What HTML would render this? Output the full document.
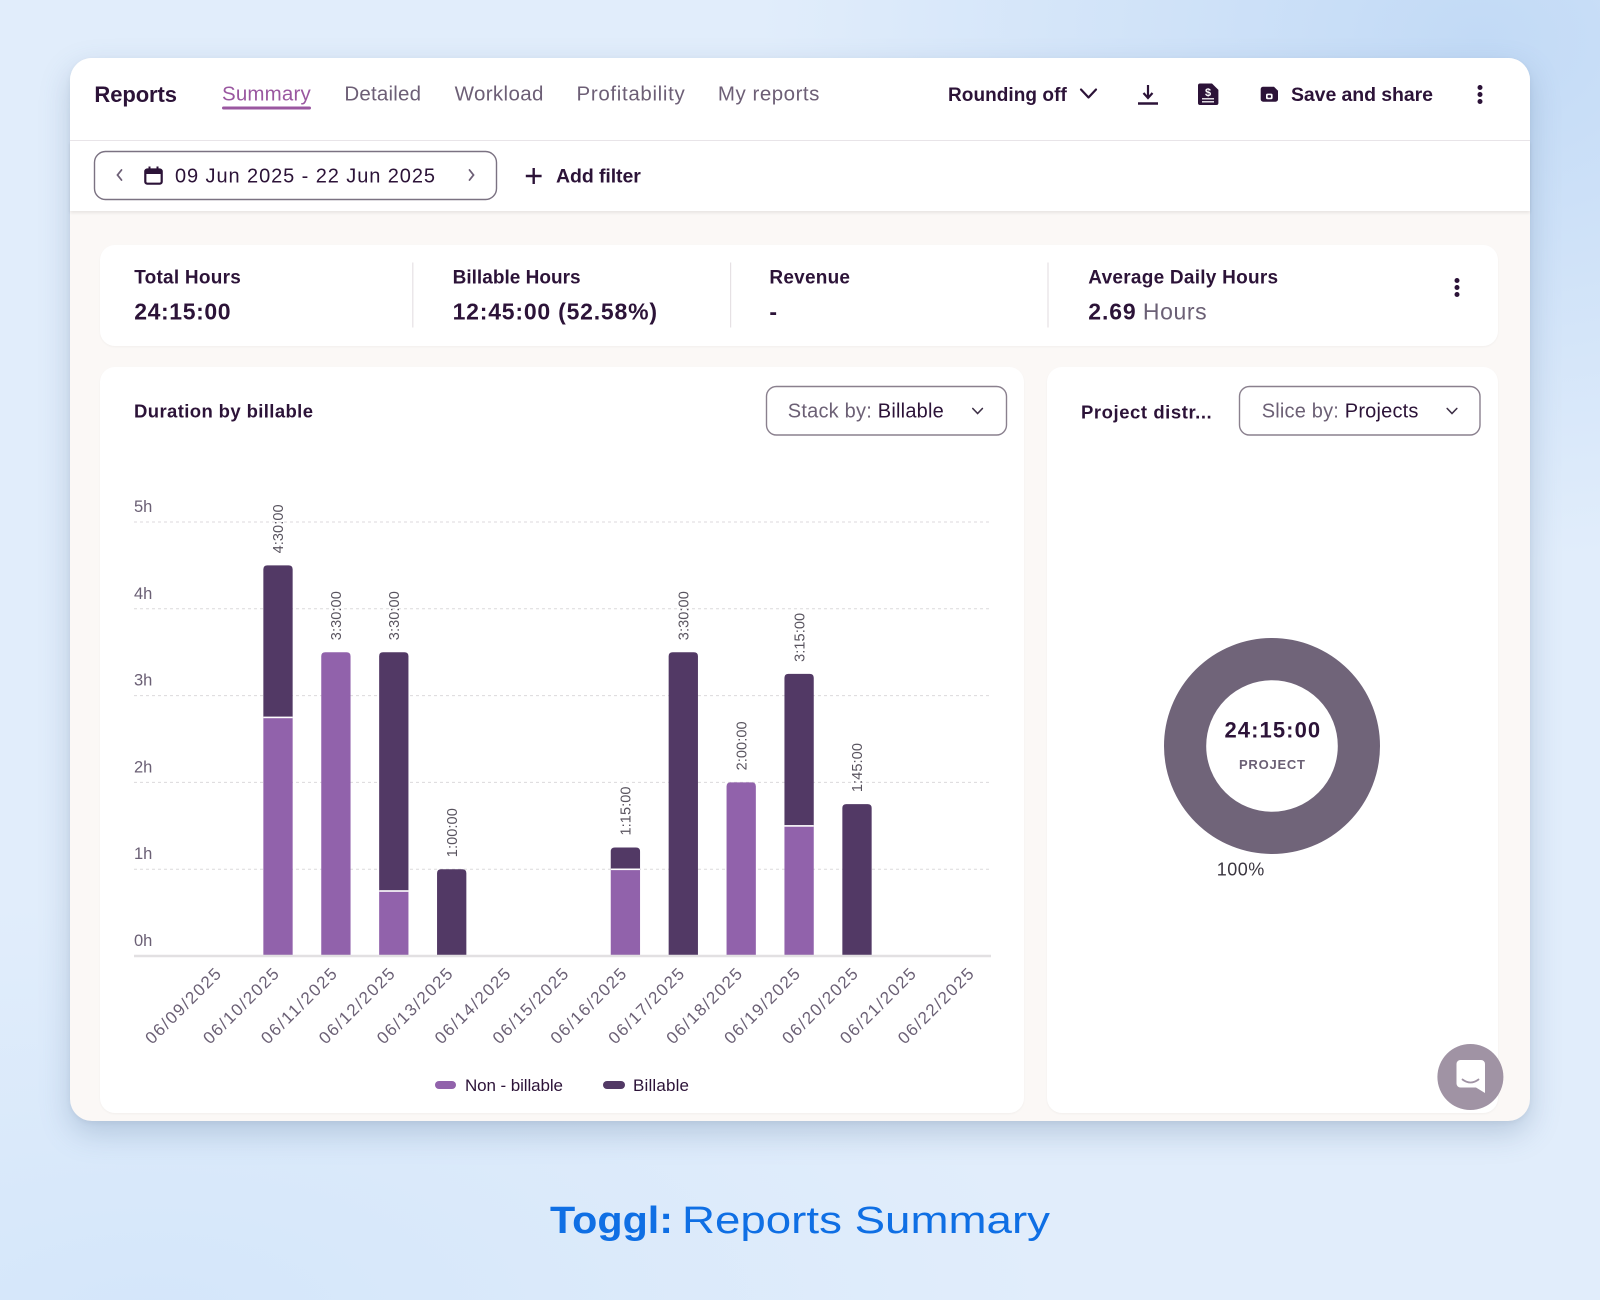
<!DOCTYPE html>
<html><head><meta charset="utf-8">
<style>
html,body{margin:0;padding:0;}
body{width:1600px;height:1300px;overflow:hidden;position:relative;
background:
radial-gradient(ellipse 720px 520px at 1480px 40px, #c2daf6 0%, rgba(194,218,246,0) 100%),
radial-gradient(ellipse 900px 420px at 150px 1320px, #d4e6fa 0%, rgba(212,230,250,0) 100%),
#e1edfb;
font-family:"Liberation Sans",sans-serif;}
.abs{position:absolute;}
.card{left:70px;top:58px;width:1460px;height:1063px;border-radius:22px;background:#fbf8f6;
box-shadow:0 12px 30px rgba(80,110,150,0.28),0 2px 6px rgba(0,0,0,0.05);}
.hdr{left:70px;top:58px;width:1460px;height:82px;background:#fff;border-radius:22px 22px 0 0;border-bottom:1px solid #e8e5e8;}
.flt{left:70px;top:141px;width:1460px;height:70px;background:#fff;box-shadow:0 2px 3px rgba(0,0,0,0.08);}
.wc{background:#fff;border-radius:15px;box-shadow:0 1px 2px rgba(0,0,0,0.04);}
</style></head>
<body>
<div class="abs card"></div>
<div class="abs hdr"></div>
<div class="abs flt"></div>
<div class="abs wc" style="left:100px;top:245px;width:1398px;height:101px;"></div>
<div class="abs wc" style="left:100px;top:367px;width:924px;height:746px;"></div>
<div class="abs wc" style="left:1047px;top:367px;width:451px;height:746px;"></div>

<svg class="abs" style="left:0;top:0" width="1600" height="1300" viewBox="0 0 1600 1300" xmlns="http://www.w3.org/2000/svg" font-family="Liberation Sans, sans-serif">
<!-- Header -->
<text x="94.4" y="102" font-size="22" font-weight="bold" fill="#2c1338" textLength="82.6">Reports</text>
<text x="222" y="100.5" font-size="20.5" fill="#9a57a0" textLength="88.7">Summary</text>
<rect x="222" y="106.5" width="89" height="3" rx="1.5" fill="#9a57a0"/>
<text x="344.4" y="100.5" font-size="20.5" fill="#6d5f76" textLength="76.6">Detailed</text>
<text x="454.6" y="100.5" font-size="20.5" fill="#6d5f76" textLength="88.8">Workload</text>
<text x="576.5" y="100.5" font-size="20.5" fill="#6d5f76" textLength="108.2">Profitability</text>
<text x="717.9" y="100.5" font-size="20.5" fill="#6d5f76" textLength="101.5">My reports</text>

<text x="948" y="101" font-size="19" font-weight="bold" fill="#2c1338" textLength="118.8">Rounding off</text>
<polyline points="1081,89.5 1088.5,97.5 1096,89.5" fill="none" stroke="#2c1338" stroke-width="2.2" stroke-linecap="round" stroke-linejoin="round"/>
<!-- download -->
<line x1="1148" y1="85" x2="1148" y2="97.5" stroke="#2c1338" stroke-width="2.2"/>
<polyline points="1143.5,93 1148,98 1152.5,93" fill="none" stroke="#2c1338" stroke-width="2.2"/>
<line x1="1138" y1="103.5" x2="1158" y2="103.5" stroke="#2c1338" stroke-width="2.4"/>
<!-- doc dollar -->
<path d="M1198,85.5 a2,2 0 0 1 2,-2 H1212 L1218.4,89.9 V103 a2,2 0 0 1 -2,2 H1200 a2,2 0 0 1 -2,-2 Z" fill="#2c1338"/>
<text x="1208" y="96" font-size="11" font-weight="bold" fill="#fff" text-anchor="middle">$</text>
<line x1="1202" y1="98.8" x2="1214" y2="98.8" stroke="#fff" stroke-width="1.3"/>
<line x1="1202" y1="101.8" x2="1214" y2="101.8" stroke="#fff" stroke-width="1.3"/>
<!-- save -->
<path d="M1260.7,89.2 a2.5,2.5 0 0 1 2.5,-2.5 H1274 L1278,90.7 V99.2 a2.5,2.5 0 0 1 -2.5,2.5 H1263.2 a2.5,2.5 0 0 1 -2.5,-2.5 Z" fill="#2c1338"/>
<rect x="1266" y="93.6" width="6.6" height="5.6" rx="1.5" fill="#fff"/>
<rect x="1267.6" y="95.1" width="3.4" height="2.6" rx="0.8" fill="#2c1338"/>
<text x="1291" y="101" font-size="19.5" font-weight="bold" fill="#2c1338" textLength="142">Save and share</text>
<circle cx="1480" cy="87.5" r="2.5" fill="#2c1338"/>
<circle cx="1480" cy="94.5" r="2.5" fill="#2c1338"/>
<circle cx="1480" cy="101.5" r="2.5" fill="#2c1338"/>

<!-- Filter row -->
<rect x="94.5" y="151.5" width="402" height="48" rx="11" fill="#fff" stroke="#7b7282" stroke-width="1.4"/>
<polyline points="121.5,170 117.5,175 121.5,180" fill="none" stroke="#6d5f76" stroke-width="1.8" stroke-linecap="round"/>
<rect x="145.3" y="169.5" width="16.4" height="14.2" rx="2" fill="none" stroke="#2c1338" stroke-width="2.2"/>
<rect x="145.3" y="169.5" width="16.4" height="4.5" fill="#2c1338"/>
<line x1="149.5" y1="166.5" x2="149.5" y2="170" stroke="#2c1338" stroke-width="2"/>
<line x1="157.5" y1="166.5" x2="157.5" y2="170" stroke="#2c1338" stroke-width="2"/>
<text x="175" y="182.3" font-size="20" fill="#2c1338" textLength="260">09 Jun 2025 - 22 Jun 2025</text>
<polyline points="469.5,170 473.5,175 469.5,180" fill="none" stroke="#6d5f76" stroke-width="1.8" stroke-linecap="round"/>
<line x1="525.8" y1="176" x2="541.6" y2="176" stroke="#2c1338" stroke-width="2.4"/>
<line x1="533.7" y1="168" x2="533.7" y2="184" stroke="#2c1338" stroke-width="2.4"/>
<text x="556" y="182.6" font-size="19.5" font-weight="bold" fill="#2c1338" textLength="84.8">Add filter</text>

<!-- Stats -->
<text x="134.2" y="283.3" font-size="19" font-weight="bold" fill="#2c1338" textLength="106.6">Total Hours</text>
<text x="134.2" y="319.3" font-size="23" font-weight="bold" fill="#2c1338" textLength="96.4">24:15:00</text>
<line x1="412.8" y1="262.5" x2="412.8" y2="327.5" stroke="#e6e1e4" stroke-width="1.2"/>
<text x="452.6" y="283.3" font-size="19" font-weight="bold" fill="#2c1338" textLength="128">Billable Hours</text>
<text x="452.6" y="319.3" font-size="23" font-weight="bold" fill="#2c1338" textLength="204.4">12:45:00 (52.58%)</text>
<line x1="730.6" y1="262.5" x2="730.6" y2="327.5" stroke="#e6e1e4" stroke-width="1.2"/>
<text x="769.4" y="283.3" font-size="19" font-weight="bold" fill="#2c1338" textLength="80.6">Revenue</text>
<text x="769.4" y="319.3" font-size="23" font-weight="bold" fill="#2c1338">-</text>
<line x1="1048" y1="262.5" x2="1048" y2="327.5" stroke="#e6e1e4" stroke-width="1.2"/>
<text x="1088.3" y="283.3" font-size="19" font-weight="bold" fill="#2c1338" textLength="189.8">Average Daily Hours</text>
<text x="1088.3" y="319.3" font-size="23" font-weight="bold" fill="#2c1338" textLength="47.4">2.69</text>
<text x="1142.9" y="319.3" font-size="23" fill="#6b6075" textLength="63.7">Hours</text>
<circle cx="1457" cy="280.5" r="2.5" fill="#2c1338"/>
<circle cx="1457" cy="287.5" r="2.5" fill="#2c1338"/>
<circle cx="1457" cy="294.5" r="2.5" fill="#2c1338"/>

<!-- Chart card header -->
<text x="134" y="417.7" font-size="18.5" font-weight="bold" fill="#2c1338" textLength="179">Duration by billable</text>
<rect x="766.5" y="386.5" width="240" height="48.5" rx="10" fill="#fff" stroke="#8a808e" stroke-width="1.4"/>
<text x="787.8" y="417.7" font-size="20" fill="#6c6075" textLength="156">Stack by: <tspan fill="#2c1338">Billable</tspan></text>
<polyline points="972.8,408.5 977.6,413.5 982.4,408.5" fill="none" stroke="#3d3046" stroke-width="1.6" stroke-linecap="round"/>

<!-- Right card header -->
<text x="1081" y="418.5" font-size="18.5" font-weight="bold" fill="#2c1338" textLength="130.7">Project distr...</text>
<rect x="1239.5" y="386.5" width="240.5" height="48.5" rx="10" fill="#fff" stroke="#8a808e" stroke-width="1.4"/>
<text x="1261.7" y="417.7" font-size="20" fill="#6c6075" textLength="156.7">Slice by: <tspan fill="#2c1338">Projects</tspan></text>
<polyline points="1447.2,408.5 1452,413.5 1456.8,408.5" fill="none" stroke="#3d3046" stroke-width="1.6" stroke-linecap="round"/>

<!-- Gridlines -->
<g stroke="#dcdadc" stroke-width="1" stroke-dasharray="3,3">
<line x1="134" y1="522" x2="991" y2="522"/>
<line x1="134" y1="608.8" x2="991" y2="608.8"/>
<line x1="134" y1="695.6" x2="991" y2="695.6"/>
<line x1="134" y1="782.4" x2="991" y2="782.4"/>
<line x1="134" y1="869.2" x2="991" y2="869.2"/>
</g>
<g font-size="16.5" fill="#6b6075">
<text x="134" y="512">5h</text>
<text x="134" y="598.8">4h</text>
<text x="134" y="685.6">3h</text>
<text x="134" y="772.4">2h</text>
<text x="134" y="859.2">1h</text>
<text x="134" y="946">0h</text>
</g>

<!-- Bars -->
<g>
<rect x="263.35" y="717.3" width="29.3" height="238.7" fill="#9162ab"/>
<path d="M263.35,717.3 V569.4 Q263.35,565.4 267.35,565.4 H288.65 Q292.65,565.4 292.65,569.4 V717.3 Z" fill="#523965"/>
<rect x="263.35" y="716.6" width="29.3" height="1.6" fill="#fff"/>
<path d="M321.25,956 V656.2 Q321.25,652.2 325.25,652.2 H346.55 Q350.55,652.2 350.55,656.2 V956 Z" fill="#9162ab"/>
<rect x="379.15" y="890.9" width="29.3" height="65.1" fill="#9162ab"/>
<path d="M379.15,890.9 V656.2 Q379.15,652.2 383.15,652.2 H404.45 Q408.45,652.2 408.45,656.2 V890.9 Z" fill="#523965"/>
<rect x="379.15" y="890.2" width="29.3" height="1.6" fill="#fff"/>
<path d="M437.05,956 V873.2 Q437.05,869.2 441.05,869.2 H462.35 Q466.35,869.2 466.35,873.2 V956 Z" fill="#523965"/>
<rect x="610.75" y="869.2" width="29.3" height="86.8" fill="#9162ab"/>
<path d="M610.75,869.2 V851.5 Q610.75,847.5 614.75,847.5 H636.05 Q640.05,847.5 640.05,851.5 V869.2 Z" fill="#523965"/>
<rect x="610.75" y="868.5" width="29.3" height="1.6" fill="#fff"/>
<path d="M668.65,956 V656.2 Q668.65,652.2 672.65,652.2 H693.95 Q697.95,652.2 697.95,656.2 V956 Z" fill="#523965"/>
<path d="M726.55,956 V786.4 Q726.55,782.4 730.55,782.4 H751.85 Q755.85,782.4 755.85,786.4 V956 Z" fill="#9162ab"/>
<rect x="784.45" y="825.8" width="29.3" height="130.2" fill="#9162ab"/>
<path d="M784.45,825.8 V677.9 Q784.45,673.9 788.45,673.9 H809.75 Q813.75,673.9 813.75,677.9 V825.8 Z" fill="#523965"/>
<rect x="784.45" y="825.1" width="29.3" height="1.6" fill="#fff"/>
<path d="M842.35,956 V808.1 Q842.35,804.1 846.35,804.1 H867.65 Q871.65,804.1 871.65,808.1 V956 Z" fill="#523965"/>
</g>
<line x1="134" y1="956" x2="991" y2="956" stroke="#e2e0e2" stroke-width="2.5"/>

<!-- Value labels -->
<g font-size="14.5" fill="#58535e">
<text transform="translate(283.2,553.4) rotate(-90)" textLength="49">4:30:00</text>
<text transform="translate(341.1,640.2) rotate(-90)" textLength="49">3:30:00</text>
<text transform="translate(399.0,640.2) rotate(-90)" textLength="49">3:30:00</text>
<text transform="translate(456.9,857.2) rotate(-90)" textLength="49">1:00:00</text>
<text transform="translate(630.6,835.5) rotate(-90)" textLength="49">1:15:00</text>
<text transform="translate(688.5,640.2) rotate(-90)" textLength="49">3:30:00</text>
<text transform="translate(746.4,770.4) rotate(-90)" textLength="49">2:00:00</text>
<text transform="translate(804.3,661.9) rotate(-90)" textLength="49">3:15:00</text>
<text transform="translate(862.2,792.1) rotate(-90)" textLength="49">1:45:00</text>
</g>

<!-- X labels -->
<g font-size="17" fill="#6b6075" text-anchor="end">
<text transform="translate(222.1,975) rotate(-45)" textLength="99">06/09/2025</text>
<text transform="translate(280.0,975) rotate(-45)" textLength="99">06/10/2025</text>
<text transform="translate(337.9,975) rotate(-45)" textLength="99">06/11/2025</text>
<text transform="translate(395.8,975) rotate(-45)" textLength="99">06/12/2025</text>
<text transform="translate(453.7,975) rotate(-45)" textLength="99">06/13/2025</text>
<text transform="translate(511.6,975) rotate(-45)" textLength="99">06/14/2025</text>
<text transform="translate(569.5,975) rotate(-45)" textLength="99">06/15/2025</text>
<text transform="translate(627.4,975) rotate(-45)" textLength="99">06/16/2025</text>
<text transform="translate(685.3,975) rotate(-45)" textLength="99">06/17/2025</text>
<text transform="translate(743.2,975) rotate(-45)" textLength="99">06/18/2025</text>
<text transform="translate(801.1,975) rotate(-45)" textLength="99">06/19/2025</text>
<text transform="translate(859.0,975) rotate(-45)" textLength="99">06/20/2025</text>
<text transform="translate(916.9,975) rotate(-45)" textLength="99">06/21/2025</text>
<text transform="translate(974.8,975) rotate(-45)" textLength="99">06/22/2025</text>
</g>

<!-- Legend -->
<rect x="435" y="1081" width="21" height="8" rx="4" fill="#9162ab"/>
<text x="465" y="1091" font-size="17" fill="#2c1338" textLength="98">Non - billable</text>
<rect x="603" y="1081" width="22" height="8" rx="4" fill="#523965"/>
<text x="633" y="1091" font-size="17" fill="#2c1338" textLength="56">Billable</text>

<!-- Donut -->
<circle cx="1272" cy="746" r="86.9" fill="none" stroke="#706479" stroke-width="42.2"/>
<text x="1272.3" y="737.7" font-size="22" font-weight="bold" fill="#2c1338" text-anchor="middle" textLength="95.7">24:15:00</text>
<text x="1272" y="769.1" font-size="13" font-weight="bold" fill="#6b6075" text-anchor="middle" textLength="66">PROJECT</text>
<text x="1216.7" y="875.5" font-size="18" fill="#3b3640" textLength="47.6">100%</text>

<!-- Chat button -->
<circle cx="1470.4" cy="1077" r="33" fill="#a093a4"/>
<path d="M1460.5,1060 H1481 a4,4 0 0 1 4,4 V1093 L1476,1087.5 H1460.5 a4,4 0 0 1 -4,-4 V1064 a4,4 0 0 1 4,-4 Z" fill="#fff"/>
<path d="M1462.5,1079.5 Q1470.5,1085.5 1478.5,1079.5" fill="none" stroke="#a093a4" stroke-width="1.8" stroke-linecap="round"/>

<!-- Bottom caption -->
<text x="550" y="1233" font-size="38" font-weight="bold" fill="#0f6fe4" textLength="123" lengthAdjust="spacingAndGlyphs">Toggl:</text>
<text x="682" y="1233" font-size="38" fill="#0f6fe4" textLength="368" lengthAdjust="spacingAndGlyphs">Reports Summary</text>
</svg>
</body></html>
